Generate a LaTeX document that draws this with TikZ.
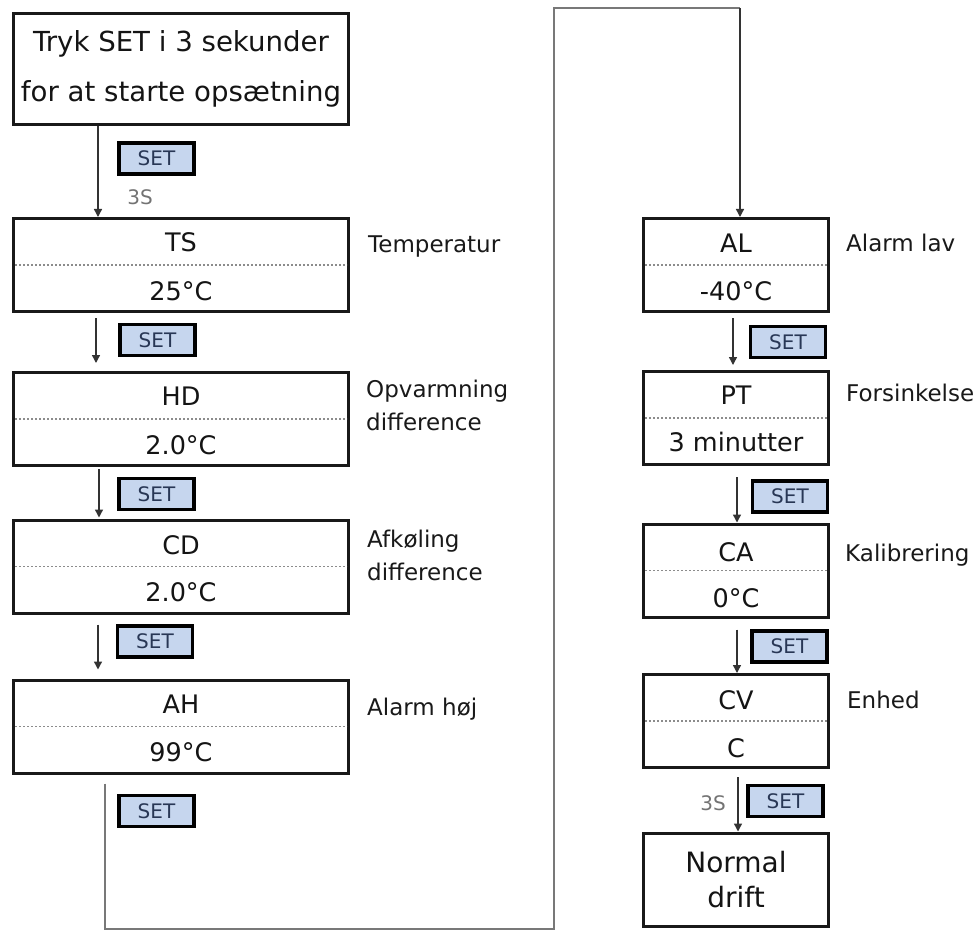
\documentclass[tikz,border=0pt]{standalone}
\usepackage{fontspec}
\setmainfont{DejaVu Sans}
\usetikzlibrary{arrows.meta}
\definecolor{setblue}{RGB}{198,214,238}
\definecolor{settext}{RGB}{40,55,85}
\definecolor{linegray}{RGB}{120,120,120}
\begin{document}
\begin{tikzpicture}[x=1pt,y=-1pt,
  lbox/.style={draw=black!90, line width=3pt, fill=white, minimum width=335pt, minimum height=93pt, inner sep=0pt},
  rbox/.style={lbox, minimum width=185pt},
  btxt/.style={font=\fontsize{25.5}{25.5}\selectfont, text=black!92, inner sep=0pt, text height=18.5pt, text depth=0pt},
  side/.style={anchor=west, font=\fontsize{23}{23}\selectfont, text=black!90, inner sep=0pt, text height=17pt, text depth=0pt},
  setbox/.style={draw=black, line width=3.4pt, fill=setblue, minimum width=75pt, minimum height=31pt, inner sep=0pt, font=\fontsize{20}{20}\selectfont, text=settext},
  secs/.style={font=\fontsize{20}{20}\selectfont, text=black!55, inner sep=0pt, text height=14.6pt, text depth=0pt},
  dotline/.style={draw=black!45, line width=1.1pt, dash pattern=on 2pt off 2pt},
  arr/.style={draw=black!80, line width=1.4pt, -{Triangle[length=8pt,width=8pt]}},
  loopline/.style={draw=linegray, line width=1.9pt}
]
\useasboundingbox (0,0) rectangle (978,931);

% start box
\node[lbox, minimum height=111pt, align=center, font=\fontsize{27.6}{50}\selectfont, text=black!92] (start) at (181,69) {Tryk SET i 3 sekunder\\for at starte opsætning};

% left column
\node[lbox] (ts) at (181,265) {};
\draw[dotline] ([xshift=3pt]ts.west) -- ([xshift=-3pt]ts.east);
\node[btxt] (ts-l) at (181,242) {TS};
\node[btxt] (ts-v) at (181,291) {25°C};
\node[side] (ts-s) at (368,244) {Temperatur};

\node[lbox] (hd) at (181,419) {};
\draw[dotline] ([xshift=3pt]hd.west) -- ([xshift=-3pt]hd.east);
\node[btxt] (hd-l) at (181,396) {HD};
\node[btxt] (hd-v) at (181,445) {2.0°C};
\node[side] (hd-s1) at (366,389) {Opvarmning};
\node[side] (hd-s2) at (366,422) {difference};

\node[lbox] (cd) at (181,566.5) {};
\draw[dotline] ([xshift=3pt]cd.west) -- ([xshift=-3pt]cd.east);
\node[btxt] (cd-l) at (181,545) {CD};
\node[btxt] (cd-v) at (181,592) {2.0°C};
\node[side] (cd-s1) at (367,539) {Afkøling};
\node[side] (cd-s2) at (367,572) {difference};

\node[lbox] (ah) at (181,726.5) {};
\draw[dotline] ([xshift=3pt]ah.west) -- ([xshift=-3pt]ah.east);
\node[btxt] (ah-l) at (181,704) {AH};
\node[btxt] (ah-v) at (181,752) {99°C};
\node[side] (ah-s) at (367,707) {Alarm høj};

% right column
\node[rbox] (al) at (736,265) {};
\draw[dotline] ([xshift=3pt]al.west) -- ([xshift=-3pt]al.east);
\node[btxt] (al-l) at (736,243) {AL};
\node[btxt] (al-v) at (736,291) {-40°C};
\node[side] (al-s) at (846,243) {Alarm lav};

\node[rbox] (pt) at (736,418) {};
\draw[dotline] ([xshift=3pt]pt.west) -- ([xshift=-3pt]pt.east);
\node[btxt] (pt-l) at (736,395) {PT};
\node[btxt] (pt-v) at (736,442) {3 minutter};
\node[side] (pt-s) at (846,393) {Forsinkelse};

\node[rbox] (ca) at (736,570.5) {};
\draw[dotline] ([xshift=3pt]ca.west) -- ([xshift=-3pt]ca.east);
\node[btxt] (ca-l) at (736,552) {CA};
\node[btxt] (ca-v) at (736,598) {0°C};
\node[side] (ca-s) at (845,553) {Kalibrering};

\node[rbox] (cv) at (736,721) {};
\draw[dotline] ([xshift=3pt]cv.west) -- ([xshift=-3pt]cv.east);
\node[btxt] (cv-l) at (736,700) {CV};
\node[btxt] (cv-v) at (736,748) {C};
\node[side] (cv-s) at (847,700) {Enhed};

\node[rbox, align=center, font=\fontsize{28}{35}\selectfont, text=black!92] (nd) at (736,879.5) {Normal\\drift};

% SET buttons
\node[setbox] (s1) at (156.5,158.5) {SET};
\node[setbox] (s2) at (157.5,340) {SET};
\node[setbox] (s3) at (156.5,494) {SET};
\node[setbox] (s4) at (155,641.5) {SET};
\node[setbox] (s5) at (156.5,811) {SET};
\node[setbox] (r1) at (788,342) {SET};
\node[setbox] (r2) at (790,496.5) {SET};
\node[setbox] (r3) at (789.5,646.5) {SET};
\node[setbox] (r4) at (785.5,801) {SET};

\node[secs] (t1) at (140,197) {3S};
\node[secs] (t2) at (713,803) {3S};

% arrows
\draw[arr] ([xshift=-83pt]start.south) -- ([xshift=-83pt]ts.north);
\draw[arr] ([xshift=-85pt,yshift=-5pt]ts.south) -- ([xshift=-85pt,yshift=8pt]hd.north);
\draw[arr] ([xshift=-82pt,yshift=-2pt]hd.south) -- ([xshift=-82pt,yshift=1pt]cd.north);
\draw[arr] ([xshift=-83pt,yshift=-10pt]cd.south) -- ([xshift=-83pt,yshift=9pt]ah.north);

\draw[arr] ([xshift=-3pt,yshift=-5pt]al.south) -- ([xshift=-3pt,yshift=5pt]pt.north);
\draw[arr] ([xshift=1pt,yshift=-11pt]pt.south) -- ([xshift=1pt]ca.north);
\draw[arr] ([xshift=1pt,yshift=-11pt]ca.south) -- ([xshift=1pt]cv.north);
\draw[arr] ([xshift=2pt,yshift=-8pt]cv.south) -- ([xshift=2pt]nd.north);

% loop from AH to AL
\coordinate (lp1) at (105,929);
\coordinate (lp2) at (554,929);
\coordinate (lp3) at (554,8);
\coordinate (lp4) at (740,8);
\draw[loopline] ([xshift=-76pt,yshift=-9pt]ah.south) -- (lp1) -- (lp2) -- (lp3) -- (lp4);
\draw[arr] (lp4) -- ([xshift=4pt]al.north);
\end{tikzpicture}
\end{document}
